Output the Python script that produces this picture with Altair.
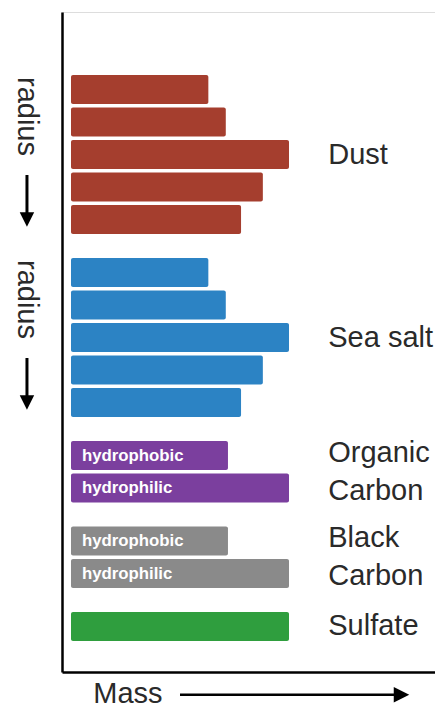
import altair as alt
import pandas as pd

# ---- data ----
groups = ["Dust", "Sea salt", "Organic Carbon", "Black Carbon", "Sulfate"]
dust_mass = [63, 71, 100, 88, 78]
seasalt_mass = [63, 71, 100, 88, 78]
oc_mass = [72, 100]
bc_mass = [72, 100]
sulfate_mass = [100]
group_masses = [dust_mass, seasalt_mass, oc_mass, bc_mass, sulfate_mass]
group_colors = ["#a53e2e", "#2c83c4", "#7b3f9e", "#8a8a8a", "#2f9e3e"]
bar_labels = [[], [], ["hydrophobic", "hydrophilic"], ["hydrophobic", "hydrophilic"], []]
group_label_lines = [["Dust"], ["Sea salt"], ["Organic", "Carbon"], ["Black", "Carbon"], ["Sulfate"]]
radius_groups = ["Dust", "Sea salt"]
axis_title = "Mass"
radius_text = "radius"

# ---- layout helpers (slot units on y, mass units on x) ----
GAP = 0.63
HALF = 0.446
LINE = 1.17
rows, centers = [], {}
slot = 0.0
for gi, (g, ms) in enumerate(zip(groups, group_masses)):
    start = slot
    for bi, m in enumerate(ms):
        rows.append({
            "group": g, "slot": slot, "y0": slot - HALF, "y1": slot + HALF,
            "start": 0, "mass": m,
            "label": bar_labels[gi][bi] if bar_labels[gi] else "",
        })
        slot += 1
    centers[g] = (start + slot - 1) / 2
    slot += GAP
bars_df = pd.DataFrame(rows)

lab_rows = []
for g, lines in zip(groups, group_label_lines):
    n = len(lines)
    for i, t in enumerate(lines):
        lab_rows.append({"group": g, "text": t, "x": 118,
                         "y": centers[g] + (i - (n - 1) / 2) * LINE})
glabels_df = pd.DataFrame(lab_rows)

radius_df = pd.DataFrame({
    "group": radius_groups,
    "x": [-20.2] * len(radius_groups),
    "ytext": [centers[g] - 1.17 for g in radius_groups],
    "yline0": [centers[g] + 0.63 for g in radius_groups],
    "yhead": [centers[g] + 2.0 for g in radius_groups],
    "text": [radius_text] * len(radius_groups),
})

mass_df = pd.DataFrame({
    "text": [axis_title], "xt": [26.1], "yt": [18.6],
    "x0": [50.0], "x1": [149.5], "xh": [151.6], "ya": [18.62],
})

FONT = "Liberation Sans"
xs = alt.Scale(domain=[-4.13, 166.97], nice=False, zero=False)
ys = alt.Scale(domain=[-2.385, 17.92], nice=False, zero=False, reverse=True)
xaxis = alt.Axis(domain=True, ticks=False, labels=False, grid=False, title=None,
                 domainColor="black", domainWidth=2.5)
yaxis = alt.Axis(domain=True, ticks=False, labels=False, grid=False, title=None,
                 domainColor="black", domainWidth=2.5)

bars = alt.Chart(bars_df).mark_rect(cornerRadius=2).encode(
    x=alt.X("start:Q", scale=xs, axis=xaxis),
    x2="mass:Q",
    y=alt.Y("y0:Q", scale=ys, axis=yaxis),
    y2="y1:Q",
    color=alt.Color("group:N", scale=alt.Scale(domain=groups, range=group_colors), legend=None),
)

inbar = alt.Chart(bars_df).transform_filter("datum.label != ''").mark_text(
    align="left", baseline="middle", font=FONT, fontSize=16.8, fontWeight="bold", color="white"
).encode(x=alt.datum(5), y="slot:Q", text="label:N")

glabels = alt.Chart(glabels_df).mark_text(
    align="left", baseline="middle", font=FONT, fontSize=29, color="#2a2a2a", dy=0
).encode(x="x:Q", y="y:Q", text="text:N")

rtext = alt.Chart(radius_df).mark_text(
    align="center", baseline="middle", angle=90, font=FONT, fontSize=29, color="#2a2a2a"
).encode(x="x:Q", y="ytext:Q", text="text:N")
rline = alt.Chart(radius_df).mark_rule(color="black", strokeWidth=3).encode(
    x="x:Q", y="yline0:Q", y2="yhead:Q")
rhead = alt.Chart(radius_df).mark_point(
    shape="M-1,-1L1,-1L0,1Z", filled=True, size=210, color="black", opacity=1
).encode(x="x:Q", y="yhead:Q")

mtext = alt.Chart(mass_df).mark_text(
    align="center", baseline="middle", font=FONT, fontSize=29, color="#2a2a2a"
).encode(x="xt:Q", y="yt:Q", text="text:N")
mline = alt.Chart(mass_df).mark_rule(color="black", strokeWidth=2.5).encode(
    x="x0:Q", x2="x1:Q", y="ya:Q")
mhead = alt.Chart(mass_df).mark_point(
    shape="M-1,-1L1,0L-1,1Z", filled=True, size=240, color="black", opacity=1
).encode(x="xh:Q", y="ya:Q")

chart = alt.layer(bars, inbar, glabels, rtext, rline, rhead, mtext, mline, mhead).properties(
    width=373, height=660,
    padding={"left": 54, "top": 4, "right": 0, "bottom": 39},
    autosize=alt.AutoSizeParams(type="none"),
).configure_view(stroke=None).configure(background="white")

chart.save("out.html", embed_options={"renderer": "svg", "actions": False})
